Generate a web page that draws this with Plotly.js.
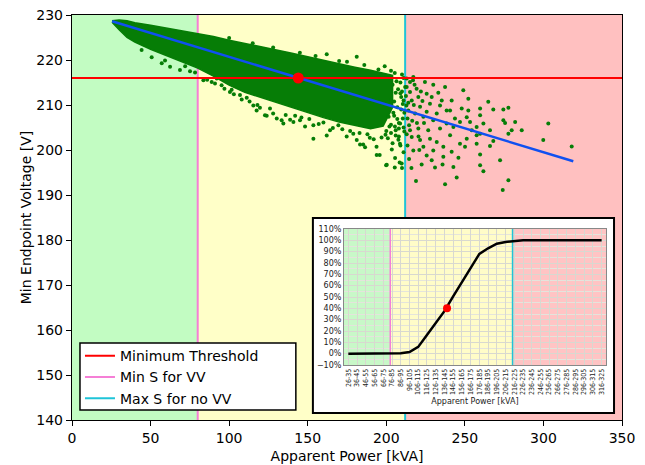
<!DOCTYPE html>
<html><head><meta charset="utf-8">
<script src="https://cdn.plot.ly/plotly-3.0.1.min.js"></script>
<style>html,body{margin:0;padding:0;background:#fff}#chart{width:645px;height:465px}</style>
</head><body><div id="chart"></div>
<script>
// ---- Main chart data ----
const minThreshold = 216;      // V
const minSforVV = 80;          // kVA
const maxSforNoVV = 212;       // kVA
const xMax = 350;

// dense core of the scatter cloud (upper / lower envelope)
const bandX     = [25.5, 30, 35, 40, 50, 60, 70, 80, 90, 100, 110, 120, 130, 140, 150, 160, 170, 180, 190, 198, 204];
const bandUpper = [228.7, 228.9, 228.7, 228.3, 227.7, 227.1, 226.5, 225.9, 225.2, 224.4, 223.7, 223.0, 222.3, 221.5, 220.7, 219.9, 219.2, 218.4, 217.7, 217.1, 216.6];
const bandLower = [228.4, 226.7, 225.0, 224.0, 222.4, 221.0, 219.6, 218.2, 216.4, 214.4, 212.8, 211.6, 210.5, 209.4, 208.3, 207.2, 206.2, 205.4, 204.7, 205.3, 209.5];

// individually visible points
const ptsX = [44.3,50.7,57.1,59.2,62.4,68.7,72,75.1,78.3,83.6,88.9,92.1,95.2,100.5,101.6,106.9,111.2,115.4,117.5,119.6,122.8,123.9,130.3,133.4,134.5,138.8,140.9,145.1,148.3,153.6,153.6,162.1,164.2,169.5,174.8,179,181.2,183.3,185.3,186.5,189.5,193.8,193.9,195.8,199.9,200.3,203.5,205.4,205.6,207.7,208.5,208.8,
  162.1,181.2,199,205.4,175,
  209,210,211,209.5,210.5,211,208,209,211,210,209.8,208.7,
  86,91,97,103,108,113,118,126,128,136,142,146,151,157,160,166,172,177,183,188,192,197,201,204,206,
  100,115,128,145,155,170,186,195,203,210,
  202,204,206,203,207,205,208,202,206,211,212,209.5,211.5,207.5,
  200,203,205.5,208,210.5,201.5,204.5,207,199.5,203,206.5,209,211.5,205,
  215.1,224.6,229.9,237.4,249.0,233.1,241.6,252.2,264.9,259.7,268.1,274.5,277.7,274.5,275.6,282.0,286.2,279.8,277.7,303.1,299.9,318.0,268.1,266.0,259.7,272.4,259.7,261.8,277.7,274.1,244.8,237.4,218.9,222.5,231.0,235.8,242.7,245.9,250.1,257.5,251.2,259.7,266.0,254.4,257.5,253.3,259.7,252.2,248.0,243.7,242.7,240.6,246.9,241.6,236.3,228.9,225.7,217.2,223.6,229.9,236.3,232.1,227.8,221.5,216.2,215.1,220.4,226.7,234.2,238.4,229.9,223.6,218.3,214.0,221.5,227.8,234.2,238.4,232.1,225.7,216.2,220.4,225.7,215.1,219.3,228.9,235.3,240.6,246.9,251.2,257.5,261.8,
  213,214,213.5,214.5,213,216.5,217.5,218,219.5,220.5,221,213.5,214.5,216,222,223,224,212.8,212.5,217,213,217.2];
const ptsY = [222.2,220.6,219.3,219.9,218.5,217.8,218.6,217.5,217.2,215.5,215.1,215.9,214.4,212.9,213.4,212.2,211.6,209.9,208.8,209.4,207.7,207.6,207,206.6,205.9,206.7,206.2,206.6,205.2,205.5,202.5,203.2,204.4,205.5,203,203.6,202.2,201.2,201.2,200.6,202.7,200.7,198.9,198.9,196.6,196.7,200.1,196.1,198.2,202.3,197.2,205.9,
  221.3,220.7,218.6,217.1,219.6,
  215,213,211,209,207,205,203,201,199.5,196,197,201.4,
  215.6,214.8,213.6,212.4,211.2,210.8,210,209.2,208.1,207.8,207.6,207.2,206.9,205.8,206.1,204.9,204.6,204.2,203.8,203.5,202.4,202.8,202.6,201.5,203.2,
  224.9,223.7,222.8,221.6,220.9,219.8,218.9,217.9,217.6,216.8,
  216,214.5,212.7,211,209.5,207.6,206,205.2,204.4,216,214,211.8,208.3,213.5,
  204.2,205.6,205.2,204.8,210.2,207.4,208.3,206.9,203.4,203.8,215.3,212.6,204.1,210.8,
  215.1,215.1,214.5,214.0,213.3,212.7,211.0,211.4,210.7,209.2,209.0,209.0,209.4,206.6,206.0,206.2,204.4,204.4,203.6,205.9,202.2,200.8,202.0,200.9,199.0,197.7,196.6,195.3,193.3,191.1,193.9,192.4,193.1,196.8,196.1,196.8,196.2,198.3,200.7,201.4,202.5,203.6,204.4,204.4,205.1,206.2,207.7,208.8,209.2,207.0,205.1,203.3,201.4,199.6,198.5,197.7,198.8,199.9,200.7,199.9,200.7,201.8,202.5,202.2,202.9,204.4,204.8,204.4,204.8,205.9,206.6,207.4,208.1,208.8,209.6,210.3,209.9,208.8,208.1,208.5,211.0,211.8,212.5,212.9,213.6,211.8,211.0,208.8,206.2,207.3,203.3,205.9,
  214,210.5,207,205.5,203.5,206.5,210,214.5,206,203,200,201,198,196,213,210.9,206,209.9,212,215.5,215.9,216.2];

// linear trend line
const trendX = [25.5, 319];
const trendY = [228.6, 197.5];
// operating point
const opX = [144];
const opY = [216];

// ---- Inset data ----
const insetLabels = ["26-35","36-45","46-55","56-65","66-75","76-85","86-95","96-105","106-115","116-125",
  "126-135","136-145","146-155","156-165","166-175","176-185","186-195","196-205","206-215","216-225",
  "226-235","236-245","246-255","256-265","266-275","276-285","286-295","296-305","306-315","316-325"];
const insetPct = [0,0,0,0,0,0,0.4,1.5,6,16.5,27,37.5,50.5,63,75,88,93,97,98.5,99.3,100,100,100,100,100,100,100,100,100,100];
const insetMinSIdx = 4.8;
const insetMaxSIdx = 18.8;
const insetDotX = [11.3];
const insetDotY = [40];

// ---- colours ----
const cGreen = '#c2fcc2', cYellow = '#ffffc8', cRed = '#ffc0c0';
const ciGreen = '#c8f8c8', ciYellow = '#fffcc8', ciRed = '#ffc4c4';
const pink = '#f57fd6', cyan = '#1fc4d8', dotGreen = '#067d06';

const idx = insetLabels.map((_, i) => i);

const traces = [
  {x: bandX.concat(bandX.slice().reverse()), y: bandUpper.concat(bandLower.slice().reverse()), mode: 'lines', fill: 'toself', fillcolor: dotGreen, line: {color: dotGreen, width: 1.5}, showlegend: false, hoverinfo: 'skip'},
  {x: ptsX, y: ptsY, mode: 'markers', marker: {color: dotGreen, size: 4}, showlegend: false},
  {x: [0, xMax], y: [minThreshold, minThreshold], mode: 'lines', line: {color: '#ff0000', width: 2}, name: 'Minimum Threshold'},
  {x: [minSforVV, minSforVV], y: [null, null], mode: 'lines', line: {color: pink, width: 2}, name: 'Min S for VV'},
  {x: [maxSforNoVV, maxSforNoVV], y: [null, null], mode: 'lines', line: {color: cyan, width: 2}, name: 'Max S for no VV'},
  {x: trendX, y: trendY, mode: 'lines', line: {color: '#1050f0', width: 2.5}, showlegend: false},
  {x: opX, y: opY, mode: 'markers', marker: {color: '#ff0000', size: 11}, showlegend: false},
  // inset
  {x: [insetMinSIdx, insetMinSIdx], y: [-10, 110], mode: 'lines', line: {color: pink, width: 1.5}, xaxis: 'x2', yaxis: 'y2', showlegend: false},
  {x: [insetMaxSIdx, insetMaxSIdx], y: [-10, 110], mode: 'lines', line: {color: cyan, width: 1.5}, xaxis: 'x2', yaxis: 'y2', showlegend: false},
  {x: idx, y: insetPct, mode: 'lines', line: {color: '#000', width: 2.5}, xaxis: 'x2', yaxis: 'y2', showlegend: false},
  {x: insetDotX, y: insetDotY, mode: 'markers', marker: {color: '#ff0000', size: 8}, xaxis: 'x2', yaxis: 'y2', showlegend: false}
];

const shapes = [
  {type: 'rect', xref: 'x', yref: 'paper', x0: 0, x1: minSforVV, y0: 0, y1: 1, fillcolor: cGreen, line: {width: 0}, layer: 'below'},
  {type: 'rect', xref: 'x', yref: 'paper', x0: minSforVV, x1: maxSforNoVV, y0: 0, y1: 1, fillcolor: cYellow, line: {width: 0}, layer: 'below'},
  {type: 'rect', xref: 'x', yref: 'paper', x0: maxSforNoVV, x1: xMax, y0: 0, y1: 1, fillcolor: cRed, line: {width: 0}, layer: 'below'},
  {type: 'line', xref: 'x', yref: 'paper', x0: minSforVV, x1: minSforVV, y0: 0, y1: 1, line: {color: pink, width: 2}, layer: 'below'},
  {type: 'line', xref: 'x', yref: 'paper', x0: maxSforNoVV, x1: maxSforNoVV, y0: 0, y1: 1, line: {color: cyan, width: 2}, layer: 'below'},
  // legend frame
  {type: 'rect', xref: 'paper', yref: 'paper', x0: 0.0145, x1: 0.407, y0: 0.0247, y1: 0.190, fillcolor: '#ffffff', line: {color: '#000', width: 1.5}, layer: 'below'},
  // inset frame
  {type: 'rect', xref: 'paper', yref: 'paper', x0: 0.438, x1: 0.9855, y0: 0.0173, y1: 0.4988, fillcolor: '#ffffff', line: {color: '#000', width: 2}, layer: 'below'},
  {type: 'rect', xref: 'x2', yref: 'y2', x0: -0.5, x1: insetMinSIdx, y0: -10, y1: 110, fillcolor: ciGreen, line: {width: 0}, layer: 'below'},
  {type: 'rect', xref: 'x2', yref: 'y2', x0: insetMinSIdx, x1: insetMaxSIdx, y0: -10, y1: 110, fillcolor: ciYellow, line: {width: 0}, layer: 'below'},
  {type: 'rect', xref: 'x2', yref: 'y2', x0: insetMaxSIdx, x1: 29.5, y0: -10, y1: 110, fillcolor: ciRed, line: {width: 0}, layer: 'below'}
];

const F = 'DejaVu Sans, sans-serif';
const layout = {
  width: 645, height: 465,
  margin: {l: 72, r: 23, t: 15, b: 45},
  paper_bgcolor: '#fff', plot_bgcolor: '#fff',
  font: {family: F, size: 14, color: '#000'},
  showlegend: true,
  legend: {x: 0.0145, y: 0.197, xanchor: 'left', yanchor: 'top', bgcolor: 'rgba(0,0,0,0)', borderwidth: 0, font: {family: F, size: 14, color: '#000'}, tracegroupgap: 0},
  xaxis: {range: [0, xMax], dtick: 50, tick0: 0, showgrid: false, zeroline: false, showline: true, mirror: true, linecolor: '#000', linewidth: 1.2,
          ticks: 'outside', ticklen: 5, tickcolor: '#000', tickfont: {size: 14}, title: {text: 'Apparent Power [kVA]', font: {size: 14}, standoff: 6}, domain: [0, 1], anchor: 'y'},
  yaxis: {range: [140, 230], dtick: 10, showgrid: false, zeroline: false, showline: true, mirror: true, linecolor: '#000', linewidth: 1.2,
          ticks: 'outside', ticklen: 5, tickcolor: '#000', tickfont: {size: 14}, title: {text: 'Min Endpoint Voltage [V]', font: {size: 14}, standoff: 1}, domain: [0, 1], anchor: 'x'},
  xaxis2: {domain: [0.4945, 0.9709], anchor: 'y2', range: [-0.5, 29.5], tickvals: idx, ticktext: insetLabels, tickangle: -90,
           tickfont: {family: 'Liberation Sans Narrow, DejaVu Sans Condensed, DejaVu Sans', size: 7, color: '#222'}, showgrid: true, gridcolor: '#d8d8d0', gridwidth: 1,
           zeroline: false, showline: true, mirror: true, linecolor: '#888', linewidth: 1, ticks: '',
           title: {text: 'Apparent Power [kVA]', font: {family: F, size: 8, color: '#222'}, standoff: 4}},
  yaxis2: {domain: [0.1358, 0.4716], anchor: 'x2', range: [-10, 110], dtick: 10, tick0: 0, ticksuffix: '%', tickfont: {family: F, size: 8, color: '#222'},
           showgrid: true, gridcolor: '#d8d8d0', gridwidth: 1, minor: {dtick: 5, showgrid: true, gridcolor: '#e4e4dc'},
           zeroline: false, showline: true, mirror: true, linecolor: '#888', linewidth: 1, ticks: ''},
  shapes: shapes
};

Plotly.newPlot('chart', traces, layout, {displayModeBar: false, staticPlot: true});
</script></body></html>
